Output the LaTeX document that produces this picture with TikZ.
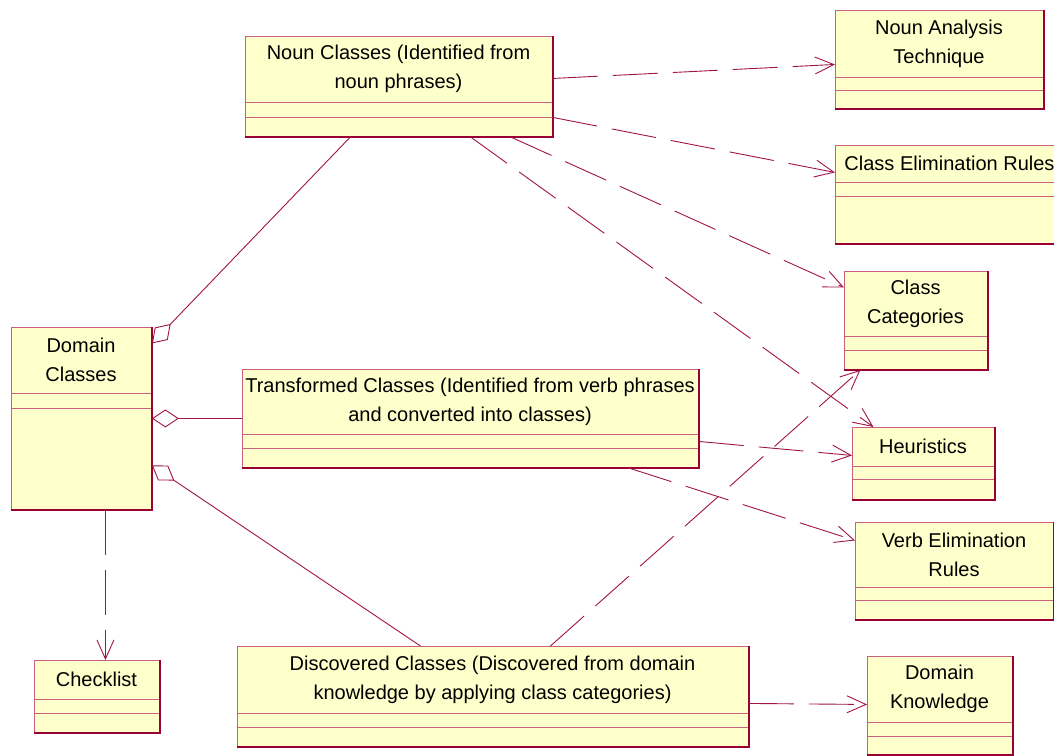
\documentclass[tikz,border=0pt]{standalone}
\usepackage{fontspec}
\setmainfont{Liberation Sans}
\usetikzlibrary{arrows.meta,calc}

\definecolor{umlfill}{HTML}{FFFFCC}
\definecolor{umledge}{HTML}{990033}
\definecolor{umllight}{HTML}{C8607E}
\definecolor{umlline}{HTML}{A0144A}

\tikzset{
  classframe/.style={draw=umllight, line width=0.9pt, fill=umlfill, rectangle, inner sep=0pt},
  shadeedge/.style={draw=umledge, line width=1.8pt},
  divider/.style={draw=umllight, line width=0.9pt},
  classname/.style={font=\fontsize{20}{29}\selectfont, align=center, text=black, inner sep=0pt},
  depend/.style={draw=umlline, line width=0.9pt, dash pattern=on 45pt off 15pt,
                 -{Straight Barb[length=19pt,width=17pt]}},
  aggr/.style={draw=umlline, line width=0.9pt,
               -{Diamond[open,length=27pt,width=18pt]}},
}

% \umlclass{name}{left}{top}{right}{bottom}{divider1}{divider2}{title}
\newcommand\umlclass[8]{%
  \node[classframe, anchor=north west,
        minimum width={(#4-#2)*1pt}, minimum height={(#5-#3)*1pt}] (#1) at (#2,#3) {};
  \draw[divider] (#2,#6) -- (#4,#6) (#2,#7) -- (#4,#7);
  \draw[shadeedge] (#1.north east) -- (#1.south east) -- (#1.south west);
  \node[classname] (#1-title) at ({(#2+#4)/2},{(#3+#6)/2}) {#8};
}

\begin{document}
\begin{tikzpicture}[x=1pt,y=-1pt]
  \useasboundingbox (0,0) rectangle (1054,755);
  \fill[white] (0,0) rectangle (1054,755);

  \umlclass{noun}{245}{36}{552}{136}{102}{117}{Noun Classes (Identified from\\noun phrases)}
  \umlclass{nat}{835}{10}{1043}{108}{77}{90}{Noun Analysis\\Technique}
  \umlclass{cer}{835}{145}{1064}{243}{182}{196}{Class Elimination Rules}
  \umlclass{cat}{844}{271}{987}{369}{336}{350}{Class\\Categories}
  \umlclass{domain}{11}{327}{151}{509}{393}{408}{Domain\\Classes}
  \umlclass{trans}{242}{369}{698}{467}{434}{448}{Transformed Classes (Identified from verb phrases\\and converted into classes)}
  \umlclass{heur}{852}{427}{994}{499}{466}{479}{Heuristics}
  \umlclass{verb}{855}{522}{1053}{619}{587}{600}{Verb Elimination\\Rules}
  \umlclass{check}{34}{660}{159}{732}{699}{713}{Checklist}
  \umlclass{disc}{237}{646}{748}{746}{713}{727}{Discovered Classes (Discovered from domain\\knowledge by applying class categories)}
  \umlclass{dk}{867}{656}{1012}{754}{722}{736}{Domain\\Knowledge}

  % aggregations into Domain Classes
  \draw[aggr] ([xshift=-48.5pt]noun.south) -- ([yshift=75pt]domain.east);
  \draw[aggr] (trans.west) -- (domain.east);
  \draw[aggr] ([xshift=-72.5pt]disc.north) -- ([yshift=-47pt]domain.east);

  % dependencies
  \draw[depend] ([yshift=8pt]noun.east) -- ([yshift=-5pt]nat.west);
  \draw[depend] ([yshift=-31pt]noun.east) -- ([yshift=22pt]cer.west);
  \draw[depend] ([xshift=111.5pt]noun.south) -- ([yshift=33pt]cat.west);
  \draw[depend] ([xshift=71.5pt]noun.south) -- ([xshift=-50pt]heur.north);
  \draw[depend] ([yshift=-23pt]trans.east) -- ([yshift=8pt]heur.west);
  \draw[depend] ([xshift=158pt]trans.south) -- ([yshift=30.5pt]verb.west);
  \draw[depend] ([xshift=57.5pt]disc.north) -- ([xshift=-55.5pt]cat.south);
  \draw[depend] ([yshift=-7pt]disc.east) -- ([yshift=1pt]dk.west);
  \draw[depend] ([xshift=24pt]domain.south) -- ([xshift=8.5pt]check.north);
\end{tikzpicture}
\end{document}
